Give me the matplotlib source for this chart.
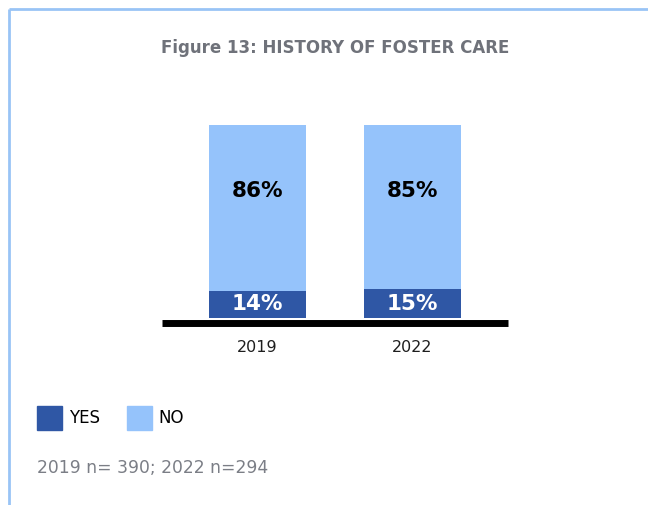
import matplotlib
matplotlib.use("Agg")
import matplotlib.pyplot as plt
from matplotlib.lines import Line2D
from matplotlib.patches import Patch

# data
years = ["2019", "2022"]
yes_pct = [14, 15]
no_pct = [86, 85]
series_names = ["YES", "NO"]
title = "Figure 13: HISTORY OF FOSTER CARE"
note = "2019 n= 390; 2022 n=294"

YES_COLOR = "#2f57a5"
NO_COLOR = "#95c3fb"
BORDER = "#99c4f6"

plt.rcParams["font.family"] = ["DejaVu Sans"]

W, H = 648, 505
fig = plt.figure(figsize=(W / 100, H / 100), dpi=100)

# light blue frame (top + left)
fig.add_artist(Line2D([9 / W, 1], [1 - 9 / H, 1 - 9 / H], color=BORDER, lw=2, solid_capstyle="butt"))
fig.add_artist(Line2D([9 / W, 9 / W], [0, 1 - 9 / H], color=BORDER, lw=2, solid_capstyle="butt"))

# axes placed in pixel space: x 162..508, y 125..318
ax = fig.add_axes([162 / W, (H - 318) / H, 346 / W, 193 / H])
x = list(range(len(years)))
width = 0.62
ax.bar(x, yes_pct, width, color=YES_COLOR)
ax.bar(x, no_pct, width, bottom=yes_pct, color=NO_COLOR)

for i in x:
    ax.text(i, yes_pct[i] / 2, f"{yes_pct[i]}%", ha="center", va="center",
            color="white", fontsize=15.5, fontweight="bold")
    ax.text(i, yes_pct[i] + no_pct[i] * 0.6, f"{no_pct[i]}%", ha="center", va="center",
            color="black", fontsize=15.5, fontweight="bold")

# thick baseline just under the bars (set position before tick labels,
# since it resets the ticks)
for s in ["top", "right", "left"]:
    ax.spines[s].set_visible(False)
ax.spines["bottom"].set_position(("outward", 3.5))
ax.spines["bottom"].set_linewidth(5)
ax.spines["bottom"].set_capstyle("butt")

ax.set_xlim(-0.616, 1.616)
ax.set_ylim(0, 100)
ax.set_yticks([])
ax.set_xticks(x)
ax.set_xticklabels(years, fontsize=11.5, color="#1e1e1e")
ax.tick_params(axis="x", length=0, pad=12.5)
ax.patch.set_visible(False)

fig.text(335 / W, 1 - 48 / H, title, ha="center", va="center", fontsize=12,
         fontweight="bold", color="#6f727a")

handles = [Patch(color=YES_COLOR), Patch(color=NO_COLOR)]
fig.legend(handles, series_names, loc="upper left", bbox_to_anchor=(37 / W, 1 - 406 / H),
           frameon=False, ncol=2, fontsize=12, handlelength=1.5, handleheight=1.8,
           handletextpad=0.4, columnspacing=1.65, borderpad=0, borderaxespad=0)

fig.text(37 / W, 1 - 468 / H, note, ha="left", va="center", fontsize=12.3,
         color="#7b7e86")

fig.savefig("out.png", dpi=100)
